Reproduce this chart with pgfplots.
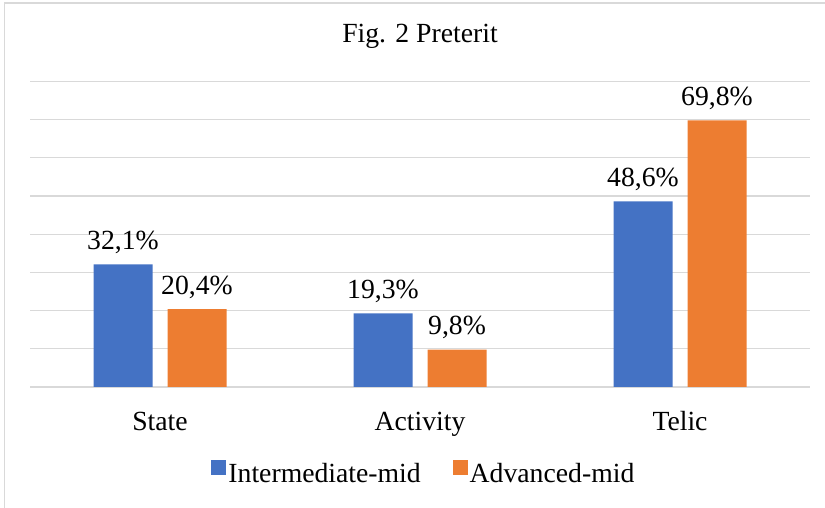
\documentclass[border=0pt]{standalone}
\usepackage{fontspec}
\setmainfont{Liberation Serif}
\usepackage{pgfplots}
\pgfplotsset{compat=1.18}
\definecolor{cblue}{HTML}{4472C4}
\definecolor{corange}{HTML}{ED7D31}
\definecolor{cgrid}{HTML}{D9D9D9}
\newcommand\cf{\fontsize{27.7}{33}\selectfont}
\begin{document}
\begin{tikzpicture}[x=1pt,y=1pt]
\useasboundingbox (0,0) rectangle (825,508);
\draw[cgrid, line width=1.5pt] (4.5,0) -- (4.5,505) -- (825,505);
\node[anchor=base, font=\cf, inner sep=0pt] at (420,465) {Fig. 2 Preterit};
\begin{axis}[
 at={(30pt,121pt)}, anchor=south west,
 scale only axis, width=780pt, height=305.6pt,
 xmin=-0.5, xmax=2.5, ymin=0, ymax=80,
 ybar=15pt, bar width=59pt,
 axis line style={draw=none},
 ytick={0,10,...,80}, yticklabels={}, ymajorgrids,
 grid style={cgrid, line width=1.3pt},
 major tick length=0pt,
 xtick={0,1,2}, xticklabels={State,Activity,Telic},
 xticklabel style={font=\cf, anchor=base, yshift=-44pt},
 nodes near coords={\pgfmathprintnumber[fixed,fixed zerofill,precision=1,use comma,assume math mode=true]{\pgfplotspointmeta}\%},
 nodes near coords style={font=\cf, anchor=base, yshift=15pt, text=black, inner sep=0pt},
 legend columns=2,
 legend style={at={(0.505,-0.281)}, anchor=center, draw=none, font=\cf, nodes={inner xsep=2pt}, /tikz/every even column/.append style={column sep=30pt}},
 legend image code/.code={\fill[#1] (0pt,-1pt) rectangle (15pt,14pt);},
]
\addplot[fill=cblue, draw=none] coordinates {(0,32.1) (1,19.3) (2,48.6)};
\addplot[fill=corange, draw=none] coordinates {(0,20.4) (1,9.8) (2,69.8)};
\legend{Intermediate-mid, Advanced-mid}
\end{axis}
\end{tikzpicture}
\end{document}
